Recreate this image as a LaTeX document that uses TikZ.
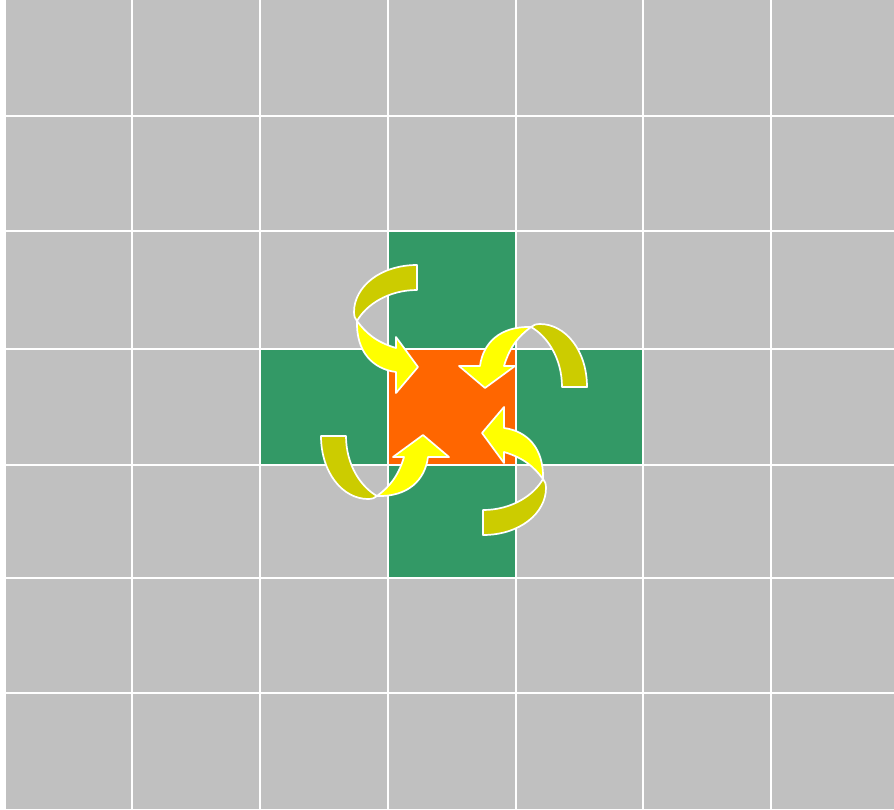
\documentclass[tikz,border=0pt]{standalone}
\usepackage{tikz}
\usepackage{xcolor}

\definecolor{cellgray}{HTML}{C0C0C0}
\definecolor{crossgreen}{HTML}{339966}
\definecolor{centreorange}{HTML}{FF6600}
\definecolor{backyellow}{HTML}{CCCC00}
\definecolor{frontyellow}{HTML}{FFFF00}

% one curved arrow, tip at (#1,#2), turned by #3
\newcommand{\swirl}[3]{%
  \begin{scope}[shift={(#1,#2)},rotate=#3]
    \filldraw[fill=backyellow,swirlline] (-1,-102) .. controls (-38,-102) and (-64,-80) .. (-64,-55)
      .. controls (-64,-51) and (-63,-48) .. (-61,-46)
      .. controls (-52,-62) and (-30,-77) .. (-1,-77) -- cycle;
    \filldraw[fill=frontyellow,swirlline] (-61,-46) .. controls (-52,-34) and (-42,-25) .. (-22,-19)
      -- (-22,-30) -- (0,0) -- (-22,26) -- (-22,5)
      .. controls (-45,2) and (-62,-15) .. (-61,-46) -- cycle;
  \end{scope}}

\begin{document}
\begin{tikzpicture}[x=0.5pt,y=-0.5pt,
    gridline/.style={draw=white,line width=1pt},
    swirlline/.style={draw=white,line width=0.85pt,line join=round}]
        \useasboundingbox (0,0) rectangle (894,809);
        \fill[cellgray] (6,0) rectangle (894,809);
        % the cross
        \fill[crossgreen] (388,231) rectangle (516,578);
        \fill[crossgreen] (260,349) rectangle (643,465);
        \fill[centreorange] (388,349) rectangle (516,465);
        % grid
        \foreach \gx in {132,260,388,516,643,771}
          \draw[gridline] (\gx,0) -- (\gx,809);
        \foreach \gy in {115.5,231,349,465,578,693}
          \draw[gridline] (6,\gy) -- (894,\gy);
        % arrows
        \swirl{418}{367}{0}
        \swirl{485}{388}{-90}
        \swirl{482}{433}{180}
        \swirl{423}{435}{90}
      \end{tikzpicture}
\end{document}
